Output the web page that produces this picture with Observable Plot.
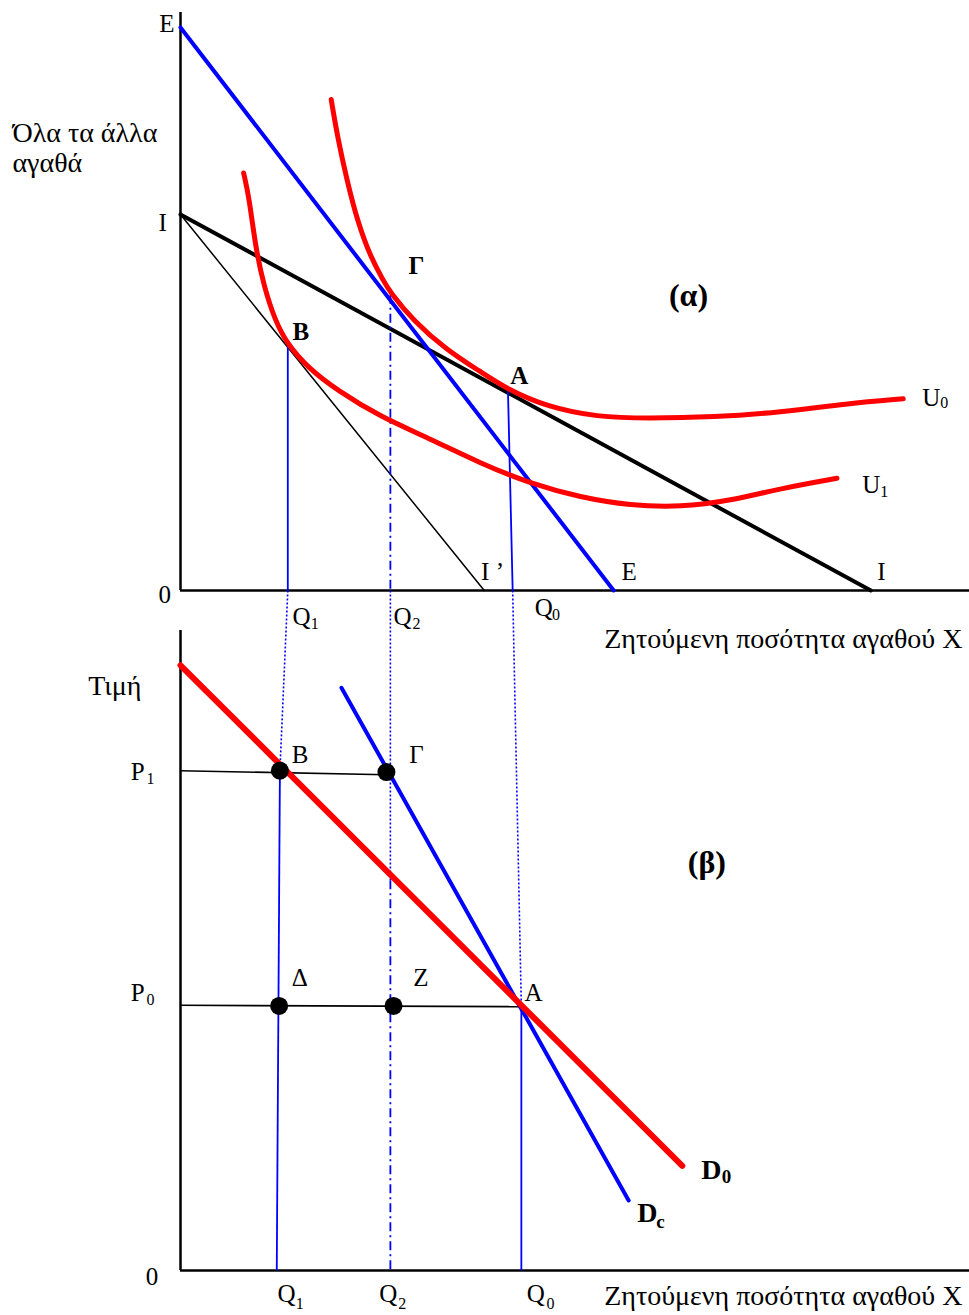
<!DOCTYPE html>
<html>
<head>
<meta charset="utf-8">
<script src="https://cdn.jsdelivr.net/npm/d3@7"></script>
<script src="https://cdn.jsdelivr.net/npm/@observablehq/plot@0.6"></script>
<style>
  html, body { margin: 0; padding: 0; background: #fff; }
  svg { display: block; }
</style>
</head>
<body>
<div id="chart"></div>
<script>
// ---------- DATA ----------
// Panel (α): quantity of good X (q) vs all other goods (g)
const budgetI  = [{q: 0, g: 55.3}, {q: 87.5, g: 0}];   // original budget line I–I
const budgetI1 = [{q: 0, g: 55.3}, {q: 38.5, g: 0}];   // after price rise I–I'
const budgetE  = [{q: 0, g: 82.8}, {q: 54.9, g: 0}];   // compensated budget line E–E
const curveU0 = [[19.1,72.2],[19.9,66.7],[21.1,60.3],[22.4,54.4],[24.1,49.0],[25.7,45.6],[26.6,43.8],[29.5,39.7],[33.8,35.3],[38.0,32.2],[41.4,29.6],[46.5,27.0],[52.8,25.5],[59.2,25.3],[67.6,25.5],[76.0,26.2],[84.5,27.5],[91.6,28.2]];
const curveU1 = [[8.0,61.4],[8.7,57.8],[9.5,50.5],[10.6,44.6],[12.0,39.7],[13.5,36.3],[16.1,32.8],[19.9,29.4],[25.4,25.5],[31.3,22.5],[38.0,18.7],[44.4,15.7],[50.7,13.7],[57.0,12.5],[63.4,12.25],[69.7,13.2],[76.0,15.0],[83.2,16.5]];
const tangentB = {q: 13.6, g: 36.3};
const tangentG = {q: 26.6, g: 43.5};
const tangentA = {q: 41.5, g: 29.6};
const axisQAlpha = {Q1: 13.6, Q2: 26.6, Q0: 42.1};
const goodsAxisTop = 85;

// Panel (β): quantity of good X (q) vs price (p)
const demandD0 = [{q: 0, p: 89.0}, {q: 63.6, p: 15.4}];
const demandDc = [{q: 20.4, p: 85.7}, {q: 56.8, p: 10.3}];
const priceP1 = 73.5, priceP0 = 38.9;
const pointBb = {q: 12.6, p: 73.5};
const pointGb = {q: 26.1, p: 73.3};
const pointDb = {q: 12.5, p: 38.9};
const pointZb = {q: 27.0, p: 38.9};
const pointAb = {q: 43.2, p: 38.8};
const q1Bottom = 12.2;
const q2Break = 57.4;
const priceAxisTop = 94.1;

// Labels (anchored in data units of each panel)
const alphaLabels = [
  {q: -2.7, g: 82.1, t: "E"}, {q: -2.8, g: 52.9, t: "I"}, {q: -2.8, g: -1.8, t: "0"},
  {q: 38.1, g: 1.5, t: "I ’"}, {q: 55.9, g: 1.5, t: "E"}, {q: 88.3, g: 1.5, t: "I"},
  {q: 94.0, g: 27.2, t: "U"}, {q: 86.4, g: 14.4, t: "U"},
  {q: 14.2, g: -5.0, t: "Q"}, {q: 27.0, g: -5.0, t: "Q"}, {q: 44.9, g: -3.7, t: "Q"}
];
const alphaAxisName = [
  {q: -21.3, g: 65.9, t: "Όλα τα άλλα"}, {q: -21.3, g: 61.5, t: "αγαθά"}
];
const alphaSubs = [
  {q: 96.3, g: 26.8, t: "0"}, {q: 88.7, g: 13.7, t: "1"},
  {q: 16.5, g: -5.7, t: "1"}, {q: 29.4, g: -5.7, t: "2"}, {q: 47.1, g: -4.4, t: "0"}
];
const alphaBold = [
  {q: 28.9, g: 46.6, t: "Γ"}, {q: 14.2, g: 36.8, t: "B"}, {q: 41.8, g: 30.4, t: "A"}
];
const alphaTitle = [{q: 61.9, g: 41.9, t: "(α)"}];
const betaLabels = [
  {q: -6.3, p: 72.2, t: "P"}, {q: -6.3, p: 39.7, t: "P"},
  {q: -4.4, p: -2.2, t: "0"},
  {q: 14.1, p: 74.6, t: "B"}, {q: 29.0, p: 74.6, t: "Γ"}, {q: 14.1, p: 41.9, t: "Δ"},
  {q: 29.5, p: 41.9, t: "Z"}, {q: 43.6, p: 39.7, t: "A"},
  {q: 12.3, p: -4.7, t: "Q"}, {q: 25.2, p: -4.7, t: "Q"}, {q: 43.9, p: -4.7, t: "Q"}
];
const betaAxisName = [{q: -11.7, p: 84.7, t: "Τιμή"}];
const betaSubs = [
  {q: -4.3, p: 71.6, t: "1"}, {q: -4.3, p: 39.1, t: "0"},
  {q: 14.6, p: -5.6, t: "1"}, {q: 27.6, p: -5.6, t: "2"}, {q: 46.4, p: -5.6, t: "0"}
];
const betaBold = [{q: 66.0, p: 13.5, t: "D"}, {q: 57.9, p: 7.1, t: "D"}];
const betaBoldSubs = [{q: 68.6, p: 12.9, t: "0"}, {q: 60.3, p: 6.2, t: "c"}];
const betaTitle = [{q: 64.3, p: 58.4, t: "(β)"}];
const xAxisTitle = "Ζητούμενη ποσότητα αγαθού X";

// ---------- LAYOUT ----------
// Both panels share one vertical scale: panel α sits OFFSET units above panel β.
const OFFSET = 100;
const ya = g => g + OFFSET;
const RED = "#ff0000", BLUE = "#0000ff";
const FONT = "Liberation Serif";

const solidDrops = [
  {x1: tangentB.q, y1: ya(tangentB.g), x2: axisQAlpha.Q1, y2: ya(0)},
  {x1: tangentA.q, y1: ya(tangentA.g), x2: axisQAlpha.Q0, y2: ya(0)},
  {x1: pointBb.q, y1: pointBb.p, x2: q1Bottom, y2: 0},
  {x1: pointAb.q, y1: pointAb.p, x2: pointAb.q, y2: 0}
];
const dashDotDrops = [
  {x1: tangentG.q, y1: ya(tangentG.g), x2: axisQAlpha.Q2, y2: ya(0)},
  {x1: axisQAlpha.Q2, y1: q2Break, x2: axisQAlpha.Q2, y2: 0}
];
const dottedLinks = [
  {x1: axisQAlpha.Q1, y1: ya(0), x2: pointBb.q, y2: pointBb.p},
  {x1: axisQAlpha.Q2, y1: ya(0), x2: axisQAlpha.Q2, y2: q2Break},
  {x1: axisQAlpha.Q0, y1: ya(0), x2: pointAb.q, y2: pointAb.p}
];
const priceLines = [
  {x1: 0, y1: priceP1, x2: pointGb.q, y2: pointGb.p - 0.4},
  {x1: 0, y1: priceP0 + 0.1, x2: pointAb.q, y2: pointAb.p}
];
const dots = [pointBb, pointGb, pointDb, pointZb];

const txt = (data, yf, opts) => Plot.text(data, {
  x: "q", y: yf, text: "t", textAnchor: "start", lineAnchor: "bottom",
  fill: "black", fontFamily: FONT, ...opts
});

const chart = Plot.plot({
  width: 969,
  height: 1315,
  margin: 0,
  style: {background: "white", fontFamily: FONT},
  x: {domain: [0, 100], range: [180, 969], axis: null},
  y: {domain: [0, 100], range: [1270, 590], axis: null},
  marks: [
    // axes of panel α
    Plot.ruleX([0], {y1: ya(0), y2: ya(goodsAxisTop), stroke: "black", strokeWidth: 2.5}),
    Plot.ruleY([ya(0)], {x1: 0, x2: 100, stroke: "black", strokeWidth: 2.5}),
    // axes of panel β
    Plot.ruleX([0], {y1: 0, y2: priceAxisTop, stroke: "black", strokeWidth: 2.5}),
    Plot.ruleY([0], {x1: 0, x2: 100, stroke: "black", strokeWidth: 2.5}),
    // budget lines
    Plot.line(budgetI1, {x: "q", y: d => ya(d.g), stroke: "black", strokeWidth: 1.5}),
    Plot.line(budgetI, {x: "q", y: d => ya(d.g), stroke: "black", strokeWidth: 4}),
    Plot.line(budgetE, {x: "q", y: d => ya(d.g), stroke: BLUE, strokeWidth: 4}),
    // drop lines and links
    Plot.link(solidDrops, {x1: "x1", y1: "y1", x2: "x2", y2: "y2", stroke: BLUE, strokeWidth: 1.8}),
    Plot.link(dashDotDrops, {x1: "x1", y1: "y1", x2: "x2", y2: "y2", stroke: BLUE, strokeWidth: 1.8, strokeDasharray: "9,4,2,4"}),
    Plot.link(dottedLinks, {x1: "x1", y1: "y1", x2: "x2", y2: "y2", stroke: BLUE, strokeWidth: 1.6, strokeDasharray: "2,2"}),
    Plot.link(priceLines, {x1: "x1", y1: "y1", x2: "x2", y2: "y2", stroke: "black", strokeWidth: 1.6}),
    // indifference curves
    Plot.line(curveU1, {x: d => d[0], y: d => ya(d[1]), stroke: RED, strokeWidth: 5, curve: "basis"}),
    Plot.line(curveU0, {x: d => d[0], y: d => ya(d[1]), stroke: RED, strokeWidth: 5, curve: "basis"}),
    // demand curves
    Plot.line(demandDc, {x: "q", y: "p", stroke: BLUE, strokeWidth: 4}),
    Plot.line(demandD0, {x: "q", y: "p", stroke: RED, strokeWidth: 6}),
    // points
    Plot.dot(dots, {x: "q", y: "p", r: 9, fill: "black", stroke: "none"}),
    // labels panel α
    txt(alphaLabels, d => ya(d.g), {fontSize: 25}),
    txt(alphaAxisName, d => ya(d.g), {fontSize: 28}),
    txt(alphaSubs, d => ya(d.g), {fontSize: 16}),
    txt(alphaBold, d => ya(d.g), {fontSize: 25, fontWeight: "bold"}),
    txt(alphaTitle, d => ya(d.g), {fontSize: 32, fontWeight: "bold"}),
    Plot.text([xAxisTitle], {x: 99.1, y: ya(-8.4), text: d => d, textAnchor: "end", lineAnchor: "bottom", fontFamily: FONT, fontSize: 28, fill: "black"}),
    // labels panel β
    txt(betaLabels, "p", {fontSize: 25}),
    txt(betaAxisName, "p", {fontSize: 28}),
    txt(betaSubs, "p", {fontSize: 16}),
    txt(betaBold, "p", {fontSize: 28, fontWeight: "bold"}),
    txt(betaBoldSubs, "p", {fontSize: 19, fontWeight: "bold"}),
    txt(betaTitle, "p", {fontSize: 32, fontWeight: "bold"}),
    Plot.text([xAxisTitle], {x: 99.1, y: -5.1, text: d => d, textAnchor: "end", lineAnchor: "bottom", fontFamily: FONT, fontSize: 28, fill: "black"})
  ]
});
document.getElementById("chart").appendChild(chart);
</script>
</body>
</html>
